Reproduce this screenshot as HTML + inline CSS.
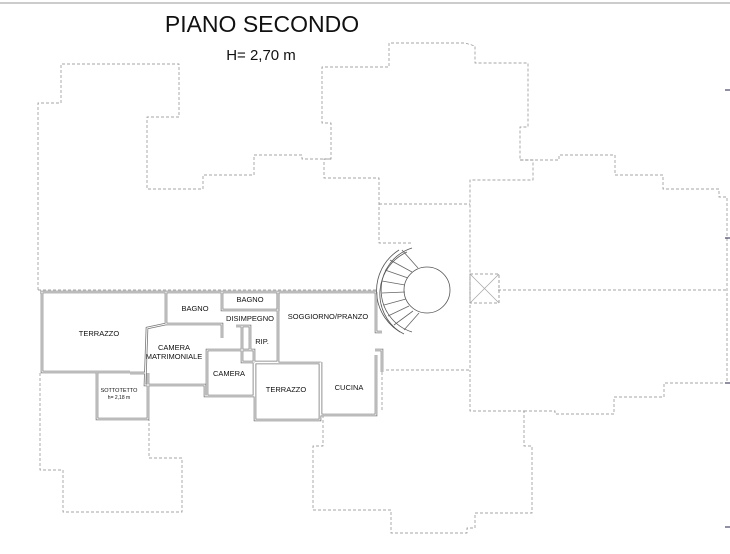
<!DOCTYPE html>
<html><head><meta charset="utf-8"><style>
html,body{margin:0;padding:0;background:#fff;}
svg{display:block;}
text{font-family:"Liberation Sans",Arial,sans-serif;fill:#111;}
</style></head><body>
<svg width="730" height="554" viewBox="0 0 730 554" xmlns="http://www.w3.org/2000/svg">
<line x1="0" y1="3" x2="730" y2="3" stroke="#999" stroke-width="1"/>
<text x="262" y="32" font-size="23" text-anchor="middle">PIANO SECONDO</text>
<text x="261" y="60" font-size="15" text-anchor="middle">H= 2,70 m</text>

<g fill="none" stroke="#888" stroke-width="0.7" stroke-dasharray="3,2">
<polyline points="38,290 38,103 61,103 61,64 179,64 179,117 147,117 147,189 203,189 203,175 254,175 254,155 302,155 302,159 331,159 331,123 322,123 322,67 389,67 389,43 465,43 475,46 475,63 528,63 528,127 520,127 520,160 533,160 533,180 470,180 470,290"/>
<polyline points="520,160 559,160 559,155 615,155 615,175 663,175 663,189 719,189 719,197 727,197 727,383"/>
<polyline points="331,159 324,159 324,178 379,178 379,243 412,243"/>
<line x1="379" y1="204" x2="470" y2="204"/>
<line x1="38" y1="290" x2="376" y2="290"/>
<line x1="498" y1="290" x2="727" y2="290"/>
<line x1="470" y1="290" x2="470" y2="370"/>
<polyline points="40,373 40,470 63,470 63,512 182,512 182,458 149,458 149,420"/>
<polyline points="323,415 323,446 313,446 313,510 391,510 391,533 467,533 467,528 475,528 475,513 532,513 532,446 524,446 524,411 470,411 470,370"/>
<polyline points="524,411 555,411 555,414 614,414 614,397 664,397 664,383 727,383"/>
<line x1="386" y1="370" x2="470" y2="370"/>
<line x1="382" y1="372" x2="382" y2="410"/>
</g>

<g fill="none" stroke="#777" stroke-width="2.6">
<polyline points="40,292 376,292"/>
<polyline points="42,292 42,372 130,372"/>
<polyline points="166,292 166,324 147,328 145,385 205,385 205,396 254,396 254,350 207,350 207,396"/>
<polyline points="166,324 222,324 222,338"/>
<polyline points="222,292 222,310 278,310 278,292"/>
<polyline points="278,292 278,362 242,362 242,326"/>
<polyline points="255,363 320,363 320,420 255,420 255,363"/>
<polyline points="321,362 321,415 376,415 376,355"/>
<polyline points="376,292 376,332 382,332"/>
<polyline points="97,373 97,419 148,419 148,373"/>
<polyline points="145,373 130,373"/>
<polyline points="236,326 250,326 250,350"/>
<polyline points="375,350 382,350 382,372"/>
</g>
<g fill="none" stroke="#fff" stroke-width="1">
<polyline points="40,292 376,292"/>
<polyline points="42,292 42,372 130,372"/>
<polyline points="166,292 166,324 147,328 145,385 205,385 205,396 254,396 254,350 207,350 207,396"/>
<polyline points="166,324 222,324 222,338"/>
<polyline points="222,292 222,310 278,310 278,292"/>
<polyline points="278,292 278,362 242,362 242,326"/>
<polyline points="255,363 320,363 320,420 255,420 255,363"/>
<polyline points="321,362 321,415 376,415 376,355"/>
<polyline points="376,292 376,332 382,332"/>
<polyline points="97,373 97,419 148,419 148,373"/>
<polyline points="145,373 130,373"/>
<polyline points="236,326 250,326 250,350"/>
<polyline points="375,350 382,350 382,372"/>
</g>

<g fill="none" stroke="#555" stroke-width="0.8">
<circle cx="427" cy="290" r="23"/>
<path d="M 412 248 A 44 44 0 0 0 412 332"/>
<path d="M 407 252 A 46 46 0 0 0 400 332"/>
<path d="M 399 250 A 48 48 0 0 0 404 334"/>
<g stroke="#666">
<line x1="412" y1="272" x2="390" y2="260"/>
<line x1="408" y1="278" x2="385" y2="270"/>
<line x1="405" y1="285" x2="382" y2="281"/>
<line x1="405" y1="292" x2="382" y2="293"/>
<line x1="406" y1="299" x2="384" y2="305"/>
<line x1="409" y1="306" x2="388" y2="316"/>
<line x1="413" y1="311" x2="394" y2="325"/>
<line x1="418" y1="268" x2="402" y2="250"/>
<line x1="419" y1="313" x2="404" y2="330"/>
</g>
<rect x="470" y="274" width="29" height="29" stroke="#888" stroke-dasharray="3,2"/>
<line x1="470" y1="274" x2="499" y2="303" stroke="#aaa"/>
<line x1="499" y1="274" x2="470" y2="303" stroke="#aaa"/>
</g>

<g font-size="7.5" text-anchor="middle">
<text x="99" y="336">TERRAZZO</text>
<text x="195" y="311">BAGNO</text>
<text x="250" y="302">BAGNO</text>
<text x="250" y="321">DISIMPEGNO</text>
<text x="328" y="319">SOGGIORNO/PRANZO</text>
<text x="262" y="344">RIP.</text>
<text x="174" y="350">CAMERA</text>
<text x="174" y="359">MATRIMONIALE</text>
<text x="229" y="376">CAMERA</text>
<text x="286" y="392">TERRAZZO</text>
<text x="349" y="390">CUCINA</text>
<text x="119" y="392" font-size="5.5" fill="#555">SOTTOTETTO</text>
<text x="119" y="399" font-size="5" fill="#555">h= 2,18 m</text>
</g>
<g stroke="#224" stroke-width="1">
<line x1="725" y1="90" x2="730" y2="90"/>
<line x1="725" y1="238" x2="730" y2="238"/>
<line x1="725" y1="383" x2="730" y2="383"/>
<line x1="725" y1="527" x2="730" y2="527"/>
</g>
</svg>
</body></html>
